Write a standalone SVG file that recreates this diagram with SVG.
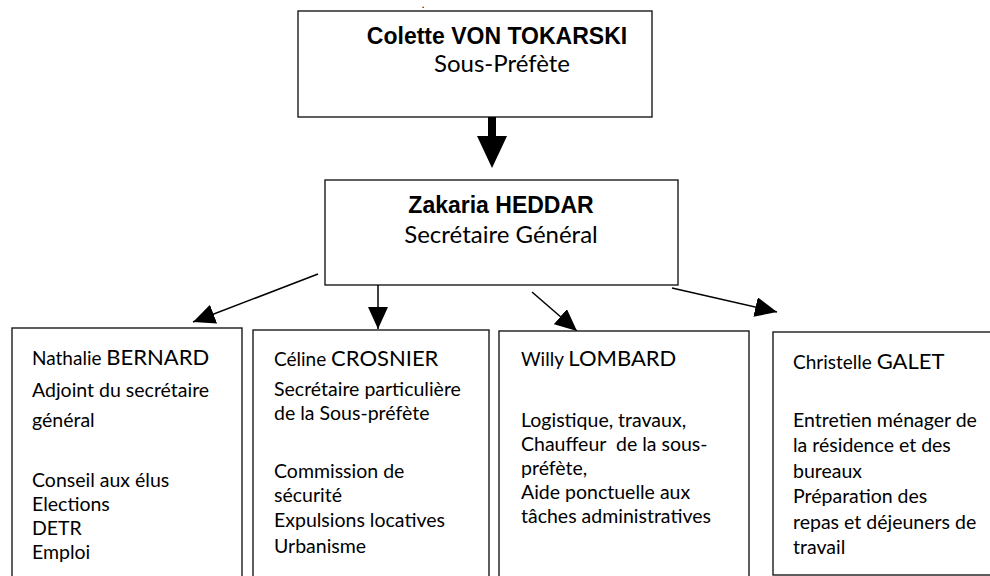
<svg xmlns="http://www.w3.org/2000/svg" width="990" height="576" viewBox="0 0 990 576">
<defs>
<style>
.box{fill:#fff;stroke:#1a1a1a;stroke-width:1.4}
.t{font-family:Lato,"Liberation Sans",sans-serif;fill:#000}
.h{font-family:"Liberation Sans",Arial,sans-serif;font-weight:bold;font-size:23px;fill:#000}
.b{font-size:19.5px}
.fn{font-size:19px}
.ln{font-size:22px}
.con{stroke:#000;stroke-width:1.5;fill:none}
</style>
<marker id="ah" viewBox="0 0 22 20" refX="22" refY="10" markerWidth="22" markerHeight="20" markerUnits="userSpaceOnUse" orient="auto">
<path d="M0,0 L22,10 L0,20 z" fill="#000"/>
</marker>
</defs>
<rect width="990" height="576" fill="#fff"/>
<text x="422" y="8" class="t" style="font-size:9px;font-weight:bold">.</text>
<g id="n-tokarski">
<rect class="box" x="298" y="11" width="354" height="106"/>
<text x="497" y="44" class="h" text-anchor="middle">Colette VON TOKARSKI</text>
<text x="502" y="72" class="t" style="font-size:24px" text-anchor="middle">Sous-Préfète</text>
</g>
<g id="n-heddar">
<rect class="box" x="325" y="180" width="353" height="105"/>
<text x="501" y="213" class="h" text-anchor="middle">Zakaria HEDDAR</text>
<text x="501" y="243" class="t" style="font-size:24px" text-anchor="middle">Secrétaire Général</text>
</g>
<g id="connectors">
<rect x="488" y="117" width="8" height="20" fill="#000"/>
<polygon points="477,136 507,136 492,168" fill="#000"/>
<line class="con" x1="318" y1="274" x2="193" y2="322" marker-end="url(#ah)"/>
<line class="con" x1="378" y1="285" x2="378" y2="329" marker-end="url(#ah)"/>
<line class="con" x1="532" y1="292" x2="577" y2="331" marker-end="url(#ah)"/>
<line class="con" x1="672" y1="288" x2="777" y2="312" marker-end="url(#ah)"/>
</g>
<g id="n-bernard">
<rect class="box" x="12" y="328" width="230" height="260"/>
<text x="32" y="365" class="t"><tspan class="fn">Nathalie </tspan><tspan class="ln">BERNARD</tspan></text>
<text x="32" y="397" class="t b">Adjoint du secrétaire</text>
<text x="32" y="427" class="t b">général</text>
<text x="32" y="487" class="t b">Conseil aux élus</text>
<text x="32" y="511" class="t b">Elections</text>
<text x="32" y="535" class="t b">DETR</text>
<text x="32" y="559" class="t b">Emploi</text>
</g>
<g id="n-crosnier">
<rect class="box" x="253" y="330" width="236" height="260"/>
<text x="274" y="366" class="t"><tspan class="fn">Céline </tspan><tspan class="ln">CROSNIER</tspan></text>
<text x="274" y="396" class="t b">Secrétaire particulière</text>
<text x="274" y="420" class="t b">de la Sous-préfète</text>
<text x="274" y="478" class="t b">Commission de</text>
<text x="274" y="502" class="t b">sécurité</text>
<text x="274" y="527" class="t b">Expulsions locatives</text>
<text x="274" y="553" class="t b">Urbanisme</text>
</g>
<g id="n-lombard">
<rect class="box" x="499" y="331" width="250" height="260"/>
<text x="521" y="366" class="t"><tspan class="fn">Willy </tspan><tspan class="ln">LOMBARD</tspan></text>
<text x="521" y="427" class="t b">Logistique, travaux,</text>
<text x="521" y="451" class="t b" xml:space="preserve">Chauffeur  de la sous-</text>
<text x="521" y="475" class="t b">préfète,</text>
<text x="521" y="499" class="t b">Aide ponctuelle aux</text>
<text x="521" y="523" class="t b">tâches administratives</text>
</g>
<g id="n-galet">
<rect class="box" x="773" y="332" width="240" height="243"/>
<text x="793" y="369" class="t"><tspan class="fn">Christelle </tspan><tspan class="ln">GALET</tspan></text>
<text x="793" y="427" class="t b">Entretien ménager de</text>
<text x="793" y="452" class="t b">la résidence et des</text>
<text x="793" y="478" class="t b">bureaux</text>
<text x="793" y="503" class="t b">Préparation des</text>
<text x="793" y="529" class="t b">repas et déjeuners de</text>
<text x="793" y="554" class="t b">travail</text>
</g>
</svg>
